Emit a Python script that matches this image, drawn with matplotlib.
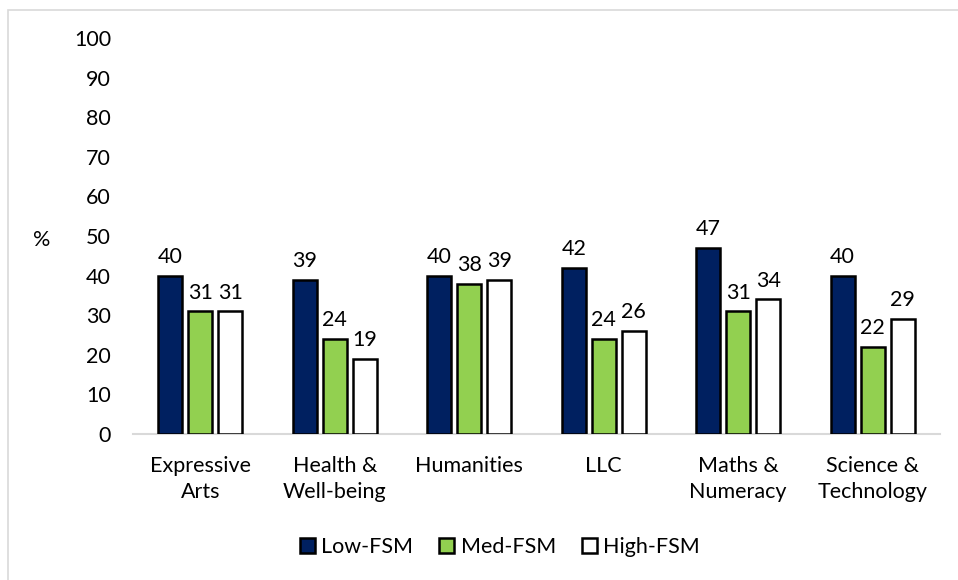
import matplotlib
matplotlib.use('agg')
import matplotlib.pyplot as plt
from matplotlib.patches import Rectangle
import numpy as np

plt.rcParams['font.family'] = ['Lato', 'DejaVu Sans']

categories = ["Expressive\nArts", "Health &\nWell-being", "Humanities", "LLC",
              "Maths &\nNumeracy", "Science &\nTechnology"]
series_names = ["Low-FSM", "Med-FSM", "High-FSM"]
low_fsm = [40, 39, 40, 42, 47, 40]
med_fsm = [31, 24, 38, 24, 31, 22]
high_fsm = [31, 19, 39, 26, 34, 29]
yticks = [0, 10, 20, 30, 40, 50, 60, 70, 80, 90, 100]

colors = ["#002060", "#92D050", "#FFFFFF"]
fs = 15.5

fig = plt.figure(figsize=(9.58, 5.8), dpi=100)
ax = fig.add_axes([0.139, 0.2517, 0.842, 0.6828])

# light border around the chart area (only left/top show in reference)
fig.patches.append(Rectangle((8/958, -0.05), 1.2, 0.05 + 1 - 10/580, transform=fig.transFigure,
                             fill=False, edgecolor='#d9d9d9', linewidth=1.2))

x = np.arange(len(categories))
pitch = 0.223
width = 0.178
for i, (vals, c) in enumerate(zip([low_fsm, med_fsm, high_fsm], colors)):
    pos = x + (i - 1) * pitch
    ax.bar(pos, vals, width, color=c, edgecolor='black', linewidth=1.8,
           label=series_names[i], zorder=3)
    for p, v in zip(pos, vals):
        ax.text(p, v + 2.2, str(v), ha='center', va='bottom', fontsize=fs)

ax.set_xlim(-0.5, 5.5)
ax.set_ylim(0, 100)
ax.set_yticks(yticks)
ax.set_xticks(x)
ax.set_xticklabels(categories, fontsize=fs, linespacing=1.38)
ax.tick_params(axis='y', length=0, labelsize=fs, pad=16)
ax.tick_params(axis='x', length=0, pad=16)
for s in ['top', 'right', 'left']:
    ax.spines[s].set_visible(False)
ax.spines['bottom'].set_color('#d9d9d9')
ax.spines['bottom'].set_linewidth(1.5)

fig.text(42/958, 1 - 240/580, "%", ha='center', va='center', fontsize=fs)

ax.legend(loc='center', bbox_to_anchor=(0.522, 1 - 547/580), bbox_transform=fig.transFigure,
          ncol=3, frameon=False, fontsize=fs, handlelength=0.7, handleheight=0.7,
          handletextpad=0.3, columnspacing=1.2)

fig.savefig("out.png", dpi=100)
